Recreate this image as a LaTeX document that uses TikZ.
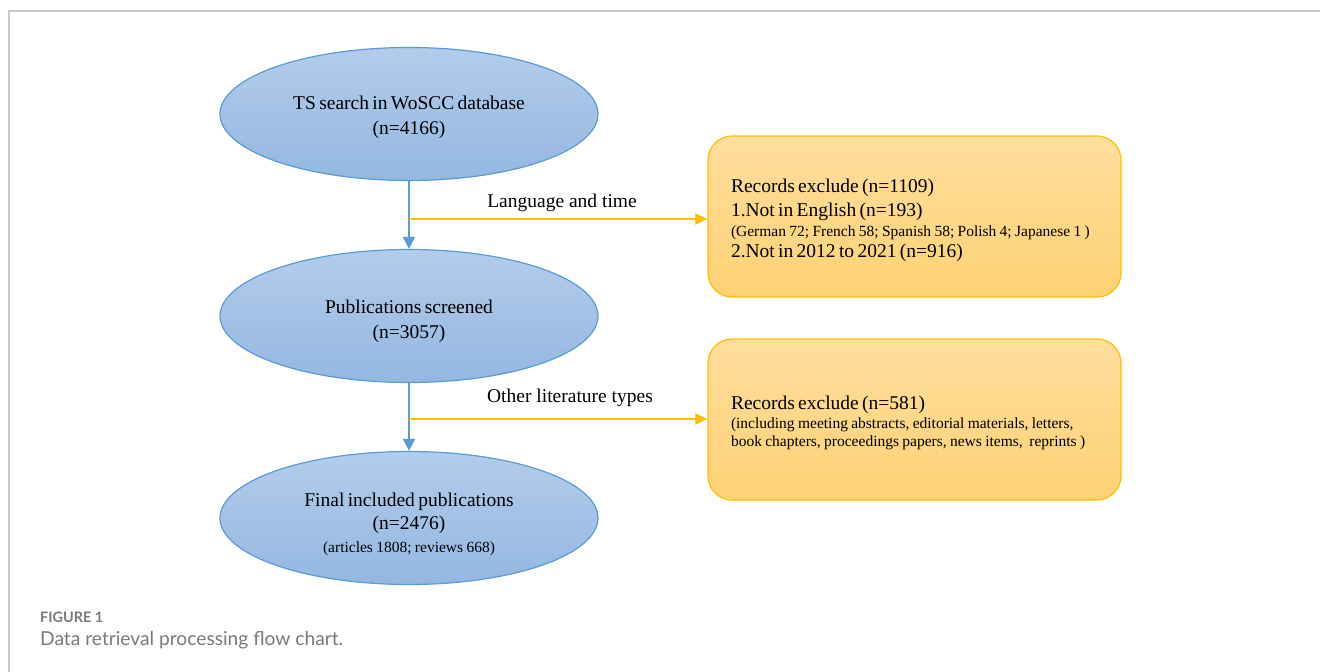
\documentclass[tikz,border=0pt]{standalone}
\usepackage{fontspec}
\setmainfont{Liberation Serif}
\newfontfamily\capfont{Lato}
\usetikzlibrary{shapes.geometric,arrows.meta}
\definecolor{ebord}{HTML}{5B9BD5}
\definecolor{etop}{HTML}{B3CCEB}
\definecolor{ebot}{HTML}{94B7E1}
\definecolor{bbord}{HTML}{FFC000}
\definecolor{btop}{HTML}{FFDE9E}
\definecolor{bbot}{HTML}{FED173}
\definecolor{framegray}{HTML}{C8C8C8}
\definecolor{capgray}{HTML}{7A7A7A}
\newcommand{\mainsz}[1]{\fontsize{19.5}{#1}\selectfont}
\newcommand{\smallsz}[1]{\fontsize{15.5}{#1}\selectfont}
\tikzset{
  oval/.style={ellipse, draw=ebord, line width=1.2pt, top color=etop, bottom color=ebot,
    minimum width=378pt, minimum height=133pt, inner sep=0pt},
  ovaltext/.style={text width=360pt, align=center, inner sep=0pt},
  excl/.style={draw=bbord, line width=1.2pt, rounded corners=24pt, top color=btop, bottom color=bbot,
    minimum width=413pt, minimum height=161pt, inner sep=0pt},
  excltext/.style={text width=367pt, align=left, inner sep=0pt},
  bluearrow/.style={draw=ebord, line width=2pt, -{Triangle[width=12pt,length=12pt]}},
  orangearrow/.style={draw=bbord, line width=2.4pt, -{Triangle[width=11pt,length=12pt]}},
  lbl/.style={font=\mainsz{24}, inner sep=0pt},
}
\begin{document}
\begin{tikzpicture}[x=1pt,y=-1pt]
\useasboundingbox (0,0) rectangle (1320,672);
\fill[white] (0,0) rectangle (1320,672);
\draw[framegray, line width=1.5pt] (9,672) -- (9,11) -- (1320,11);

\node[oval] (e1) at (409,114) {};
\node[oval] (e2) at (409,316) {};
\node[oval] (e3) at (409,518) {};
\node[ovaltext] (t1) at (409,117)
  {\mainsz{24}TS search in WoSCC database\par
   \mainsz{25}(n=4166)\par};
\node[ovaltext] (t2) at (409,321)
  {\mainsz{24}Publications screened\par
   \mainsz{25}(n=3057)\par};
\node[ovaltext] (t3) at (409,524)
  {\mainsz{24}Final included publications\par
   \mainsz{23}(n=2476)\par
   \smallsz{23}(articles 1808; reviews 668)\par};

\node[excl] (b1) at (914.5,216.5) {};
\node[excl] (b2) at (914.5,419.5) {};
\node[excltext] (bt1) at (914.5,220.5) {%
  \mainsz{23}Records exclude (n=1109)\par
  \mainsz{23.5}1.Not in English (n=193)\par
  \smallsz{20.5}(German 72; French 58; Spanish 58; Polish 4; Japanese 1 )\par
  \mainsz{20.5}2.Not in 2012 to 2021 (n=916)\par};
\node[excltext] (bt2) at (914.5,423) {%
  \mainsz{23}Records exclude (n=581)\par
  \smallsz{19.5}(including meeting abstracts, editorial materials, letters,\par
  \smallsz{18}book chapters, proceedings papers, news items,\ \ reprints )\par};

\draw[bluearrow] (e1.south) -- (e2.north);
\draw[bluearrow] (e2.south) -- (e3.north);

\coordinate (c1) at (409,219);
\coordinate (c2) at (409,419);
\draw[orangearrow] (c1) -- (c1 -| b1.west);
\draw[orangearrow] (c2) -- (c2 -| b2.west);

\node[lbl] (l1) at (562,203) {Language and time};
\node[lbl] (l2) at (570,398) {Other literature types};

\node[anchor=west, inner sep=0pt, text=capgray, font=\capfont\bfseries\fontsize{14.4}{17}\selectfont] (fig) at (40,617) {FIGURE 1};
\node[anchor=west, inner sep=0pt, text=capgray, font=\capfont\fontsize{19.2}{22}\selectfont] (cap) at (40,640) {Data retrieval processing flow chart.};
\end{tikzpicture}
\end{document}
